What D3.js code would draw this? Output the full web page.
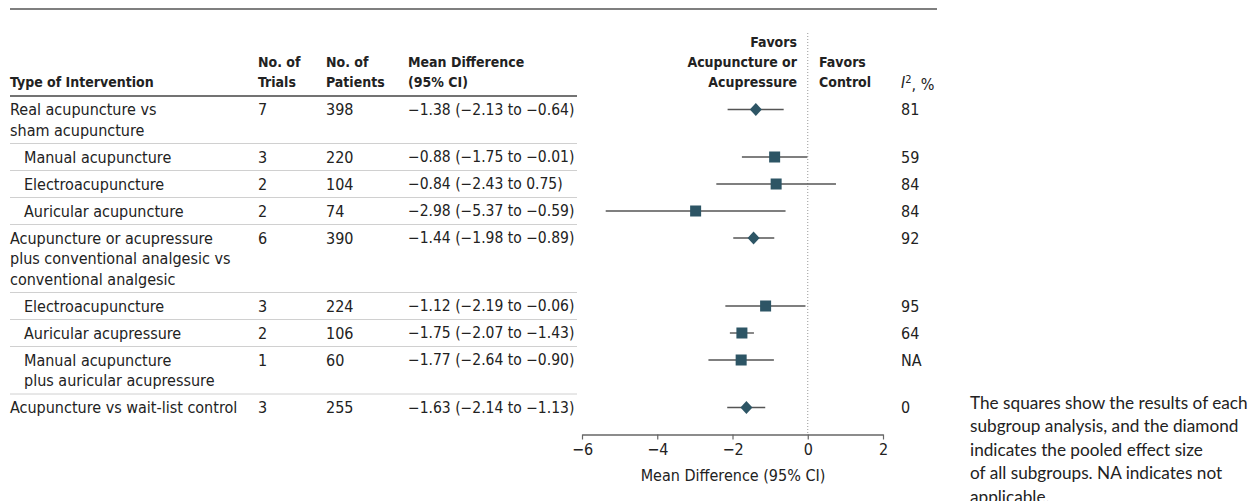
<!DOCTYPE html>
<html>
<head>
<meta charset="utf-8">
<script src="https://cdn.jsdelivr.net/npm/d3@7"></script>
<style>
  html, body { margin: 0; padding: 0; background: #fff; }
  svg { display: block; }
  .t { font-family: "DejaVu Sans Condensed", "Liberation Sans Narrow", sans-serif; font-size: 16px; fill: #222; }
  .h { font-weight: bold; font-size: 14px; }
  .num { font-size: 15.5px; }
  .note { font-family: Lato, "Open Sans", sans-serif; font-size: 17.2px; fill: #222; }
</style>
</head>
<body>
<svg id="chart" width="1256" height="501"></svg>
<script>
// ---------- data ----------
const labels = [
  ["Real acupuncture vs", "sham acupuncture"],
  ["Manual acupuncture"],
  ["Electroacupuncture"],
  ["Auricular acupuncture"],
  ["Acupuncture or acupressure", "plus conventional analgesic vs", "conventional analgesic"],
  ["Electroacupuncture"],
  ["Auricular acupressure"],
  ["Manual acupuncture", "plus auricular acupressure"],
  ["Acupuncture vs wait-list control"]
];
const isSubgroup = [false, true, true, true, false, true, true, true, false];
const trials = [7, 3, 2, 2, 6, 3, 2, 1, 3];
const patients = [398, 220, 104, 74, 390, 224, 106, 60, 255];
const meanDiff = [-1.38, -0.88, -0.84, -2.98, -1.44, -1.12, -1.75, -1.77, -1.63];
const ciLow = [-2.13, -1.75, -2.43, -5.37, -1.98, -2.19, -2.07, -2.64, -2.14];
const ciHigh = [-0.64, -0.01, 0.75, -0.59, -0.89, -0.06, -1.43, -0.90, -1.13];
const i2Values = ["81", "59", "84", "84", "92", "95", "64", "NA", "0"];
const axisTicks = [-6, -4, -2, 0, 2];
const axisTitle = "Mean Difference (95% CI)";
const noteLines = [
  "The squares show the results of each",
  "subgroup analysis, and the diamond",
  "indicates the pooled effect size",
  "of all subgroups. NA indicates not",
  "applicable."
];

// ---------- layout ----------
const svg = d3.select("#chart");
const xScale = d3.scaleLinear().domain([-6, 2]).range([582, 883]);

const singleH = 27, extraLine = 20.5, firstY = 109.5;
const rowY = [];
let acc = firstY;
labels.forEach((l, i) => { rowY.push(acc); acc += singleH + (l.length - 1) * extraLine; });

const col = { label: 10, sub: 24, trials: 258, patients: 326, md: 408, i2: 901 };
const fmt = d3.format(".2f");
const mdText = i => `${fmt(meanDiff[i])} (${fmt(ciLow[i])} to ${fmt(ciHigh[i])})`;

// top rule
svg.append("line").attr("x1", 10).attr("x2", 937).attr("y1", 9).attr("y2", 9)
  .attr("stroke", "#555").attr("stroke-width", 1.5);

function multi(g, x, ys, lines, anchor, cls) {
  lines.forEach((s, k) => {
    const t = g.append("text").attr("x", x).attr("y", ys[k]).attr("dy", "0.35em")
      .attr("text-anchor", anchor || "start").text(s);
    if (cls) t.attr("class", cls);
  });
}

// header
const hdr = svg.append("g").attr("class", "t h");
multi(hdr, col.label, [82], ["Type of Intervention"]);
multi(hdr, col.trials, [62, 82], ["No. of", "Trials"]);
multi(hdr, col.patients, [62, 82], ["No. of", "Patients"]);
multi(hdr, col.md, [62, 82], ["Mean Difference", "(95% CI)"]);
multi(hdr, 797, [42, 62, 82], ["Favors", "Acupuncture or", "Acupressure"], "end");
multi(hdr, 819, [62, 82], ["Favors", "Control"]);
const i2h = svg.append("text").attr("class", "t").attr("x", col.i2).attr("y", 82).attr("dy", "0.35em");
i2h.append("tspan").attr("font-style", "italic").text("I");
i2h.append("tspan").attr("dy", "-0.4em").attr("font-size", "11px").text("2");
i2h.append("tspan").attr("dy", "0.4em").text(", %");

// header underline
svg.append("line").attr("x1", 10).attr("x2", 577).attr("y1", 96).attr("y2", 96)
  .attr("stroke", "#444").attr("stroke-width", 1.5);

// row separators
labels.forEach((l, i) => {
  if (i === labels.length - 1) return;
  const y = rowY[i] + (l.length - 1) * extraLine + 13.5;
  svg.append("line").attr("x1", 10).attr("x2", 577).attr("y1", y).attr("y2", y)
    .attr("stroke", "#d0d0d0").attr("stroke-width", 1);
});

// table text
const body = svg.append("g").attr("class", "t");
labels.forEach((l, i) => {
  const x = isSubgroup[i] ? col.sub : col.label;
  multi(body, x, l.map((s, k) => rowY[i] + k * extraLine), l);
  multi(body, col.trials, [rowY[i]], [String(trials[i])]);
  multi(body, col.patients, [rowY[i]], [String(patients[i])]);
  multi(body, col.md, [rowY[i]], [mdText(i).replace(/-/g, "\u2212")], "start", "num");
  multi(body, col.i2, [rowY[i]], [i2Values[i]]);
});

// zero reference line
svg.append("line").attr("x1", xScale(0)).attr("x2", xScale(0)).attr("y1", 33).attr("y2", 434)
  .attr("stroke", "#999").attr("stroke-width", 1).attr("stroke-dasharray", "1,2");

// CIs and markers
const color = "#2d5565";
labels.forEach((l, i) => {
  const y = rowY[i];
  svg.append("line").attr("x1", xScale(ciLow[i])).attr("x2", xScale(ciHigh[i]))
    .attr("y1", y).attr("y2", y).attr("stroke", "#555").attr("stroke-width", 1.4);
  const cx = xScale(meanDiff[i]);
  if (isSubgroup[i]) {
    svg.append("rect").attr("x", cx - 5.5).attr("y", y - 5.5).attr("width", 11).attr("height", 11)
      .attr("fill", color);
  } else {
    svg.append("path").attr("d", `M${cx - 6},${y} L${cx},${y - 6.5} L${cx + 6},${y} L${cx},${y + 6.5} Z`)
      .attr("fill", color);
  }
});

// axis
const ax = svg.append("g").attr("transform", "translate(0,434.5)")
  .call(d3.axisBottom(xScale).tickValues(axisTicks).tickSize(5).tickSizeOuter(0).tickPadding(4));
ax.attr("font-family", null).attr("font-size", null);
ax.select(".domain").attr("stroke", "#666").attr("stroke-width", 1.5);
ax.selectAll(".tick line").attr("stroke", "#666").attr("stroke-width", 1.2);
ax.selectAll(".tick text").attr("class", "t").attr("fill", "#333");
svg.append("text").attr("class", "t").attr("x", 733).attr("y", 475).attr("dy", "0.35em")
  .attr("text-anchor", "middle").text(axisTitle);

// note
const note = svg.append("g").attr("class", "note");
noteLines.forEach((s, k) => note.append("text").attr("x", 970).attr("y", 402.7 + k * 23.5)
  .attr("dy", "0.35em").text(s));
</script>
</body>
</html>
